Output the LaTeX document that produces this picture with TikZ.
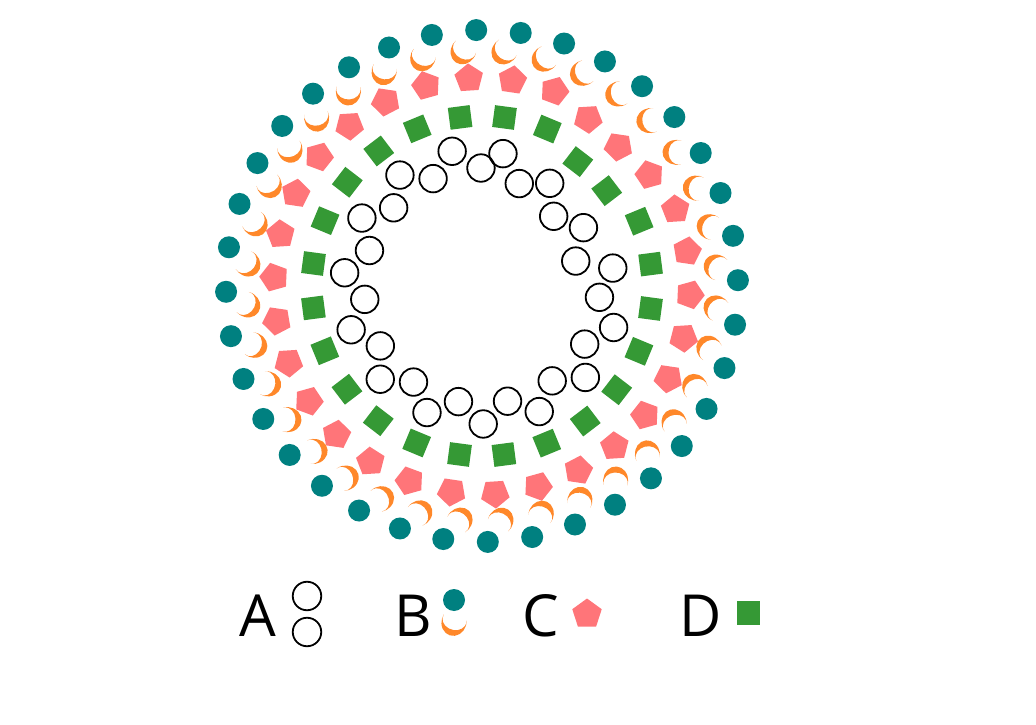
\documentclass[tikz,border=0pt]{standalone}
\usepackage{fontspec}
\setmainfont{Open Sans}
\usepackage{tikz}
\usetikzlibrary{shapes.geometric}
\definecolor{myteal}{RGB}{0,128,128}
\definecolor{myorange}{RGB}{255,136,42}
\definecolor{mypink}{RGB}{255,117,121}
\definecolor{mygreen}{RGB}{53,153,53}

\tikzset{
  ringA/.style={circle, draw=black, line width=1.8pt, minimum size=27.5pt, inner sep=0pt},
  ringB/.style={circle, fill=myteal, minimum size=22pt, inner sep=0pt},
  ringC/.style={regular polygon, regular polygon sides=5, fill=mypink, minimum size=30pt, inner sep=0pt},
  ringD/.style={rectangle, fill=mygreen, minimum size=22pt, inner sep=0pt},
  letter/.style={font=\fontsize{58}{58}\selectfont, anchor=base, inner sep=0pt},
  moon/.pic={\fill[myorange] (11.75,4.79) arc[start angle=20, end angle=-200, x radius=12.5, y radius=14]
      arc[start angle=164.4, end angle=375.6, x radius=12.2, y radius=10.08] -- cycle;}
}

\begin{document}
\begin{tikzpicture}[x=1pt, y=1pt]
  \useasboundingbox (0,0) rectangle (1036,724);
  \begin{scope}[shift={(482,438)}]
    % A: inner ring of open circles
    \foreach \ang/\rad [count=\i] in {102.5/138, 90.5/118, 81/134, 70/109, 56.6/123, 44.2/100,
        29.9/117, 14.9/97, 7.8/132, -5.5/118, -17.5/138, -29.5/118, -41.5/138, -53.5/118,
        -65.5/138, -77.5/118, -89.5/138, -101.5/118, -113.5/138, -125.5/118, -137.5/138,
        -149.5/118, -161.5/138, -173.5/118, 174.5/138, 162.5/118, 150.5/138, 138.5/118,
        126.5/138, 114.5/118}
      \node[ringA] (a\i) at (\ang:\rad) {};
    % D: squares
    \foreach \k in {0,...,23}{
      \pgfmathsetmacro\ang{7.4+15*\k}
      \pgfmathsetmacro\rad{ifthenelse(\k==2 || \k==3, 157, 170)}
      \node[ringD, rotate=\ang] (d\k) at (\ang:\rad) {};
    }
    % C: pentagons
    \foreach \k in {0,...,29}{
      \pgfmathsetmacro\ang{9.6+12*\k}
      \pgfmathsetmacro\rad{ifthenelse(\k==2, 201, ifthenelse(\k==3, 195, ifthenelse(\k==4, 198, 208)))}
      \node[ringC, rotate=\ang-90] (c\k) at (\ang:\rad) {};
    }
    % B: crescents and dots
    \foreach \k in {0,...,35}{
      \pgfmathsetmacro\ang{4.5+10*\k}
      \pic[rotate=\ang-126] at (\ang:236) {moon};
      \node[ringB] (b\k) at (\ang-3.2:256) {};
    }
  \end{scope}

  % legend
  \node[letter] (labA) at (258,88) {A};
  \node[ringA, minimum size=28.5pt] (keyA1) at (307,128) {};
  \node[ringA, minimum size=28.5pt] (keyA2) at (307,92) {};
  \node[letter] (labB) at (413,88) {B};
  \node[ringB] (keyB) at (454,124) {};
  \pic[rotate=-15] at (454,102) {moon};
  \node[letter] (labC) at (541,88) {C};
  \node[ringC, minimum size=31pt] (keyC) at (587,110) {};
  \node[letter] (labD) at (701,88) {D};
  \node[ringD, minimum size=23.5pt] (keyD) at (748.5,111) {};
\end{tikzpicture}
\end{document}
